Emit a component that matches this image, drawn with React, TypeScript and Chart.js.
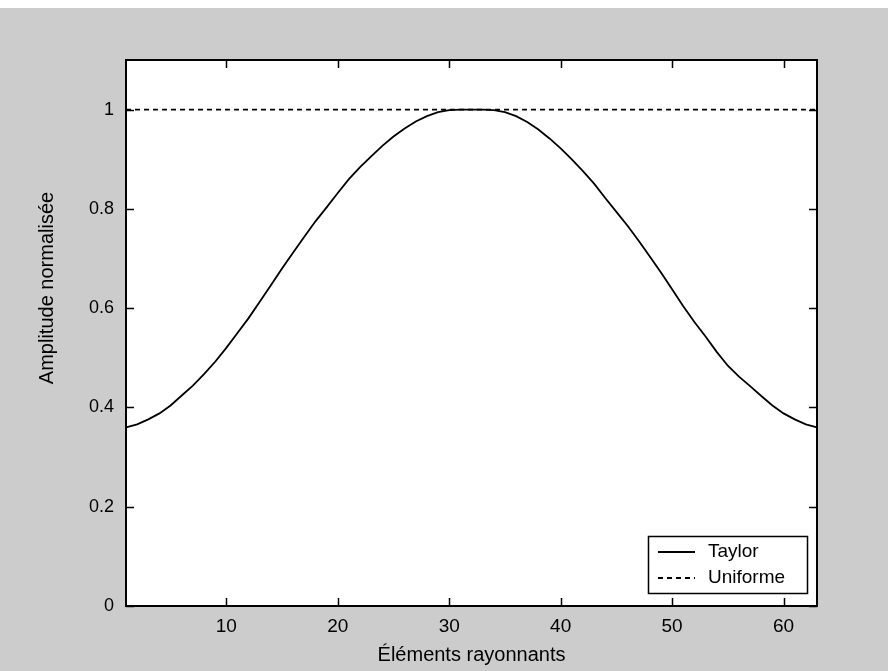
import { useEffect, useRef } from "react";
import { Chart, registerables } from "chart.js";

Chart.register(...registerables);

// Radiating element index (1..63)
const elementIndex = [
  1, 2, 3, 4, 5, 6, 7, 8, 9, 10, 11, 12, 13, 14, 15, 16, 17, 18, 19, 20, 21,
  22, 23, 24, 25, 26, 27, 28, 29, 30, 31, 32, 33, 34, 35, 36, 37, 38, 39, 40,
  41, 42, 43, 44, 45, 46, 47, 48, 49, 50, 51, 52, 53, 54, 55, 56, 57, 58, 59,
  60, 61, 62, 63,
];

// Taylor amplitude taper, normalised
const taylorAmplitude = [
  0.36, 0.366, 0.376, 0.388, 0.404, 0.424, 0.444, 0.467, 0.492, 0.52, 0.55,
  0.58, 0.613, 0.646, 0.68, 0.712, 0.744, 0.775, 0.803, 0.832, 0.86, 0.884,
  0.906, 0.927, 0.946, 0.962, 0.976, 0.987, 0.995, 0.999, 1.0, 1.0, 1.0,
  0.999, 0.995, 0.987, 0.975, 0.96, 0.942, 0.922, 0.9, 0.876, 0.851, 0.822,
  0.794, 0.766, 0.736, 0.704, 0.672, 0.638, 0.604, 0.572, 0.543, 0.512, 0.484,
  0.462, 0.443, 0.423, 0.404, 0.388, 0.376, 0.366, 0.36,
];

// Uniform weighting
const uniformIndex = [1, 63];
const uniformAmplitude = [1, 1];

const seriesNames = ["Taylor", "Uniforme"];
const xTickValues = [10, 20, 30, 40, 50, 60];
const yTickValues = [0, 0.2, 0.4, 0.6, 0.8, 1];
const xTitle = "Éléments rayonnants";
const yTitle = "Amplitude normalisée";

const FONT = '"Liberation Sans", Arial, Helvetica, sans-serif';
const FIGURE_BG = "#cccccc";

const framePlugin = {
  id: "matlabFrame",
  beforeDraw(chart: any) {
    const { ctx, width, height, chartArea: a } = chart;
    ctx.save();
    ctx.fillStyle = FIGURE_BG;
    ctx.fillRect(0, 0, width, height);
    ctx.fillStyle = "#ffffff";
    ctx.fillRect(a.left, a.top, a.right - a.left, a.bottom - a.top);
    ctx.restore();
  },
  afterDraw(chart: any) {
    const { ctx, chartArea: a, scales } = chart;
    const xs = scales.x;
    const ys = scales.y;
    ctx.save();
    ctx.strokeStyle = "#000";
    ctx.lineWidth = 2;
    ctx.setLineDash([]);
    // box
    ctx.strokeRect(a.left, a.top, a.right - a.left, a.bottom - a.top);
    // inward ticks on all four sides
    const tl = 8;
    ctx.lineWidth = 1.5;
    ctx.beginPath();
    for (const v of xTickValues) {
      const px = Math.round(xs.getPixelForValue(v)) + 0.5;
      ctx.moveTo(px, a.bottom);
      ctx.lineTo(px, a.bottom - tl);
      ctx.moveTo(px, a.top);
      ctx.lineTo(px, a.top + tl);
    }
    for (const v of yTickValues) {
      const py = Math.round(ys.getPixelForValue(v)) + 0.5;
      ctx.moveTo(a.left, py);
      ctx.lineTo(a.left + tl, py);
      ctx.moveTo(a.right, py);
      ctx.lineTo(a.right - tl, py);
    }
    ctx.stroke();

    // axis titles
    ctx.fillStyle = "#000";
    ctx.font = `20px ${FONT}`;
    ctx.textAlign = "center";
    ctx.textBaseline = "middle";
    ctx.fillText(xTitle, (a.left + a.right) / 2, a.bottom + 49);
    ctx.save();
    ctx.translate(47, a.top + 228);
    ctx.rotate(-Math.PI / 2);
    ctx.fillText(yTitle, 0, 0);
    ctx.restore();

    // legend box in the lower-right corner of the axes
    const boxW = 159;
    const boxH = 57;
    const bx = a.right - 10 - boxW;
    const by = a.bottom - 13 - boxH;
    ctx.fillStyle = "#ffffff";
    ctx.fillRect(bx, by, boxW, boxH);
    ctx.lineWidth = 1.5;
    ctx.strokeRect(bx + 0.5, by + 0.5, boxW, boxH);
    const styles = [[], [5, 4]];
    seriesNames.forEach((name, i) => {
      const ly = by + 16 + i * 26;
      ctx.beginPath();
      ctx.lineWidth = 1.8;
      ctx.setLineDash(styles[i]);
      ctx.moveTo(bx + 10, ly);
      ctx.lineTo(bx + 47, ly);
      ctx.stroke();
      ctx.setLineDash([]);
      ctx.fillStyle = "#000";
      ctx.font = `19px ${FONT}`;
      ctx.textAlign = "left";
      ctx.textBaseline = "middle";
      ctx.fillText(name, bx + 60, ly);
    });
    ctx.restore();
  },
};

export default function App() {
  const canvasRef = useRef<HTMLCanvasElement>(null);

  useEffect(() => {
    const canvas = canvasRef.current;
    if (!canvas) return;
    const chart = new Chart(canvas, {
      type: "line",
      data: {
        datasets: [
          {
            label: seriesNames[0],
            data: elementIndex.map((x, i) => ({ x, y: taylorAmplitude[i] })),
            borderColor: "#000",
            borderWidth: 1.8,
            pointRadius: 0,
            tension: 0,
            fill: false,
          },
          {
            label: seriesNames[1],
            data: uniformIndex.map((x, i) => ({ x, y: uniformAmplitude[i] })),
            borderColor: "#000",
            borderWidth: 1.8,
            borderDash: [5, 4],
            pointRadius: 0,
            tension: 0,
            fill: false,
          },
        ],
      },
      options: {
        responsive: false,
        animation: false,
        layout: { padding: { top: 52, right: 71, left: 0, bottom: 0 } },
        plugins: {
          legend: { display: false },
          tooltip: { enabled: false },
          title: { display: false },
        },
        scales: {
          x: {
            type: "linear",
            min: 1,
            max: 63,
            grid: { display: false, drawTicks: false },
            border: { display: false },
            afterBuildTicks: (scale: any) => {
              scale.ticks = xTickValues.map((value) => ({ value }));
            },
            afterFit: (scale: any) => {
              scale.height = 65;
            },
            ticks: {
              autoSkip: false,
              maxRotation: 0,
              padding: 9,
              color: "#000",
              font: { family: FONT, size: 19 },
              callback: (v: any) => String(v),
            },
          },
          y: {
            type: "linear",
            min: 0,
            max: 1.1,
            grid: { display: false, drawTicks: false },
            border: { display: false },
            afterBuildTicks: (scale: any) => {
              scale.ticks = yTickValues.map((value) => ({ value }));
            },
            afterFit: (scale: any) => {
              scale.width = 126;
            },
            ticks: {
              autoSkip: false,
              padding: 12,
              color: "#000",
              font: { family: FONT, size: 18 },
              callback: (v: any) => String(Number(Number(v).toFixed(1))),
            },
          },
        },
      },
      plugins: [framePlugin],
    });
    return () => chart.destroy();
  }, []);

  return (
    <div style={{ position: "absolute", left: 0, top: 8, width: 888, height: 663 }}>
      <canvas
        ref={canvasRef}
        width={888}
        height={663}
        style={{ display: "block", width: 888, height: 663 }}
      />
    </div>
  );
}
